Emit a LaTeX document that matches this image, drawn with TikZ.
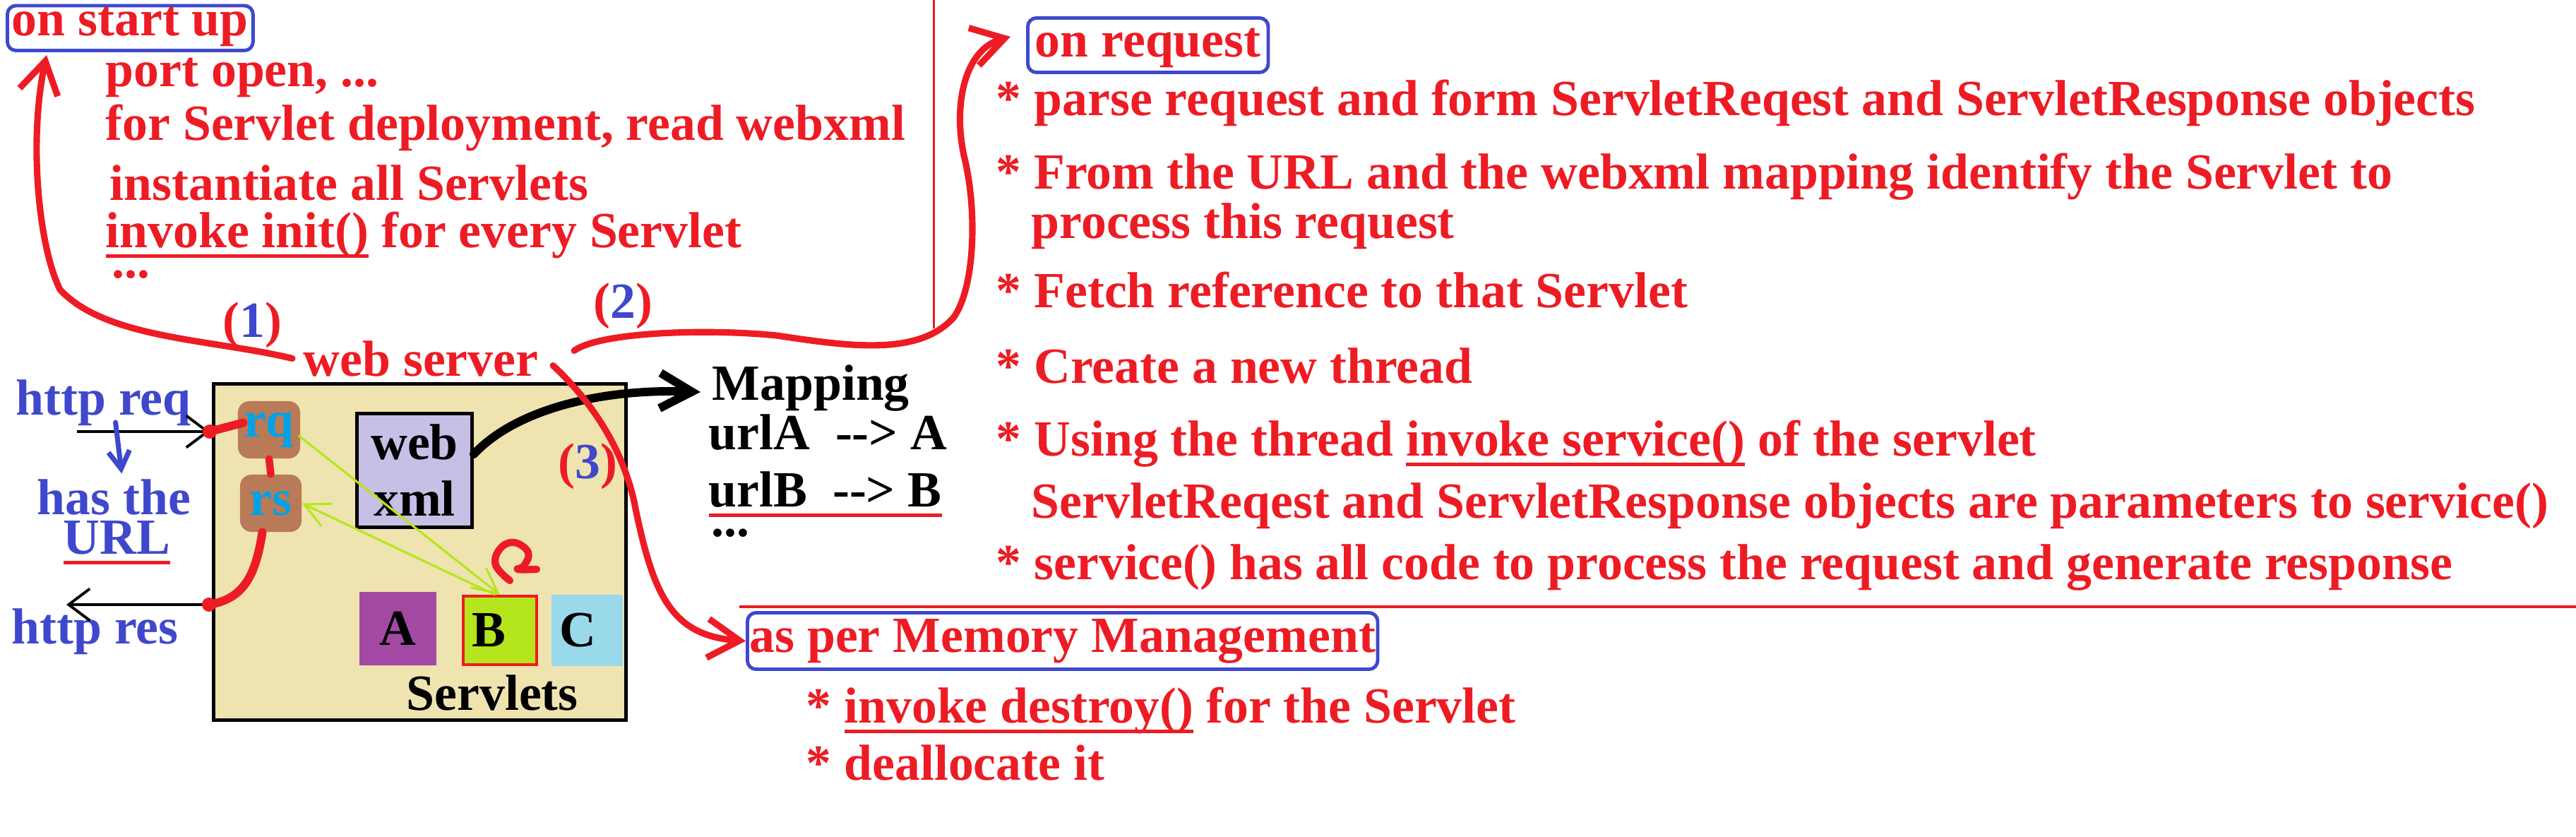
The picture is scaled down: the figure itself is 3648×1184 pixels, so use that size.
\documentclass[tikz,border=0pt]{standalone}
\usepackage{fontspec}
\setmainfont{Liberation Serif}
\usetikzlibrary{arrows.meta,calc}

\definecolor{penred}{HTML}{ED1C24}
\definecolor{inkblue}{HTML}{3F48CC}
\definecolor{sky}{HTML}{00A2E8}
\definecolor{brownish}{HTML}{B97A57}
\definecolor{beige}{HTML}{EFE4B0}
\definecolor{lavender}{HTML}{C8BFE7}
\definecolor{purpleA}{HTML}{A349A4}
\definecolor{limeB}{HTML}{B5E61D}
\definecolor{lightC}{HTML}{99D9EA}

% red underline under a piece of text
\newcommand{\redul}[1]{\setbox0=\hbox{#1}\rlap{\textcolor{penred}{\rule[-0.21em]{\wd0}{0.07em}}}\box0\relax}
% step number: red brackets, blue digit
\newcommand{\stepnum}[1]{\textcolor{penred}{(}\textcolor{inkblue}{#1}\textcolor{penred}{)}}

\tikzset{
  note/.style={anchor=base west, inner sep=0, text=penred},
  headbox/.style={draw=inkblue, line width=1.4pt, rounded corners=3.5pt, text=penred, anchor=base west, inner ysep=0},
  pen/.style={draw=penred, line width=2.6pt, line cap=round, line join=round},
  redtip/.style={-{Straight Barb[length=4.5mm, width=5.5mm]}},
  wire/.style={draw=black, line width=1.1pt, -{Straight Barb[length=3mm, width=4.5mm]}},
  link/.style={draw=limeB, line width=0.9pt, -{Straight Barb[length=3.5mm, width=3.5mm]}},
  servlet/.style={inner sep=0, text=black}
}

\begin{document}
\begin{tikzpicture}[x=0.01cm, y=-0.01cm, font=\fontsize{20.4pt}{22.8pt}\selectfont\bfseries]
    \useasboundingbox (0,0) rectangle (3648,1184);

    % Left: start up
    \node[headbox, inner xsep=0.065cm, text height=0.42cm, text depth=0.215cm] (startbox) at (8,50) {on start up};
    \node[note] (port) at (149,122) {port open, ...};
    \node[note] (deploy) at (149,198) {for Servlet deployment, read webxml};
    \node[note] (inst) at (155,283) {instantiate all Servlets};
    \node[note] (init) at (149,350) {\redul{invoke init()} for every Servlet};
    \node[note] (more) at (158,393) {...};

    % the web server box
    \node[draw, line width=1.5pt, fill=beige, minimum width=5.84cm, minimum height=4.76cm, inner sep=0] (container) at (594.5,781.5) {};
    \node[note, inner xsep=0.15cm] (server) at (414,532) {web server};
    \node[note] (one) at (315,477) {\stepnum{1}};
    \node[note] (two) at (840,450) {\stepnum{2}};
    \node[note] (three) at (790,677) {\stepnum{3}};

    \node[fill=brownish, rounded corners=0.16cm, minimum width=0.88cm, minimum height=0.81cm, inner sep=0, text=sky] (rq) at (381,608.5) {rq};
    \node[fill=brownish, rounded corners=0.16cm, minimum width=0.87cm, minimum height=0.81cm, inner sep=0, text=sky] (rs) at (383.5,712.5) {rs};
    \node[draw, line width=1.4pt, fill=lavender, minimum width=1.63cm, minimum height=1.61cm, inner sep=0, align=center] (webxml) at (587,666) {web\\xml};

    \node[servlet, fill=purpleA, minimum width=1.09cm, minimum height=1.04cm] (A) at (563.5,890) {A};
    \node[servlet, fill=limeB, draw=penred, line width=1.1pt, text width=0.78cm, inner xsep=0.13cm, align=left, minimum height=0.97cm] (B) at (708,892.5) {B};
    \node[servlet, fill=lightC, text width=0.78cm, inner xsep=0.11cm, align=left, minimum height=1.01cm] (C) at (831.5,892.5) {C};
    \node[note, text=black] (servlets) at (575,1005) {Servlets};

    % http side
    \node[note, text=inkblue] (httpreq) at (22,587) {http req};
    \node[note, text=inkblue] (hasthe) at (52,728) {has the};
    \node[note, text=inkblue] (url) at (89,784) {\redul{URL}};
    \node[note, text=inkblue] (httpres) at (16,911) {http res};
    \coordinate (reqfrom) at (109,611);
    \coordinate (reqin) at (297,611);
    \coordinate (resout) at (296,856);
    \coordinate (resto) at (94,856);

    % mapping
    \node[note, text=black] (mapping) at (1008,566) {Mapping};
    \node[note, text=black] (urlA) at (1003,636) {urlA~~-\kern0pt->~A};
    \node[note, text=black] (urlB) at (1003,717) {\redul{urlB~~-\kern0pt->~B}};
    \node[note, text=black] (mapdots) at (1007,759) {...};

    % Right: on request
    \node[headbox, inner xsep=0.105cm, text height=0.545cm, text depth=0.225cm] (reqbox) at (1453,80) {on request};
    \node[note] (parse) at (1410,163) {* parse request and form ServletReqest and ServletResponse objects};
    \node[note] (identify) at (1410,267) {* From the URL and the webxml mapping identify the Servlet to};
    \node[note] (identify2) at (1460,337) {process this request};
    \node[note] (fetch) at (1410,435) {* Fetch reference to that Servlet};
    \node[note] (thread) at (1410,542) {* Create a new thread};
    \node[note] (invoke) at (1410,645) {* Using the thread \redul{invoke service()} of the servlet};
    \node[note] (invoke2) at (1460,733) {ServletReqest and ServletResponse objects are parameters to service()};
    \node[note] (service) at (1410,820) {* service() has all code to process the request and generate response};
    \draw[penred, line width=0.85pt] (1322,0) -- (1322,465);
    \draw[penred, line width=1.4pt] (1047,859) -- (3648,859);

    % memory management
    \node[headbox, inner xsep=0.03cm, text height=0.555cm, text depth=0.245cm] (membox) at (1056,923) {as per Memory Management};
    \node[note] (destroy) at (1141,1023) {* \redul{invoke destroy()} for the Servlet};
    \node[note] (dealloc) at (1141,1104) {* deallocate it};

    % connectors
    \draw[wire] (reqfrom) -- (reqin);
    \draw[wire] (resout) -- (resto);
    \draw[pen, line width=3.4pt] (reqin) -- ($(rq.west)+(8,-10)$);
    \fill[penred] (reqin) circle (0.1cm);
    \draw[pen, line width=3pt] (rq.south) -- (rs.north);
    \draw[pen, line width=3.4pt] ($(rs.south)+(-12,0)$) .. controls (362,815) and (345,848) .. (resout);
    \fill[penred] (resout) circle (0.1cm);
    \draw[draw=inkblue, line width=2pt, line cap=round, -{Straight Barb[length=2.5mm, width=3mm]}] ($(httpreq.south)+(17,-5)$) -- ($(hasthe.north)+(11,-7)$);
    \draw[link] ($(rq.east)+(-3,8)$) -- (B.north);
    \draw[link] ($(B.north)+(-7,0)$) -- (rs.east);
    \draw[pen, line width=2.9pt] plot[smooth, tension=0.7] coordinates {(722,822) (702,800) (708,777) (728,768) (748,782) (742,801) (733,806) (760,806)};
    \draw[line width=3.4pt, line cap=round, -{Straight Barb[length=4.5mm, width=5mm]}] ($(webxml.east)+(0,-23)$) .. controls (730,580) and (850,550) .. ($(mapping.west)+(-16,6)$);

    % (1) (2) (3) from the web server
    \draw[pen, redtip] (server.west) .. controls (300,480) and (150,480) .. (85,410) .. controls (55,350) and (40,200) .. ($(startbox.south west)+(58,4)$);
    \draw[pen, redtip] ($(server.east)+(35,-11)$) .. controls (850,470) and (1000,465) .. (1100,475) .. controls (1200,490) and (1300,505) .. (1350,450) .. controls (1380,410) and (1385,300) .. (1365,220) .. controls (1350,150) and (1365,70) .. ($(reqbox.west)+(-22,-12)$);
    \draw[pen, redtip] ($(server.east)+(5,10)$) .. controls (840,570) and (885,640) .. (900,720) .. controls (925,840) and (950,900) .. (membox.west);
\end{tikzpicture}
\end{document}
